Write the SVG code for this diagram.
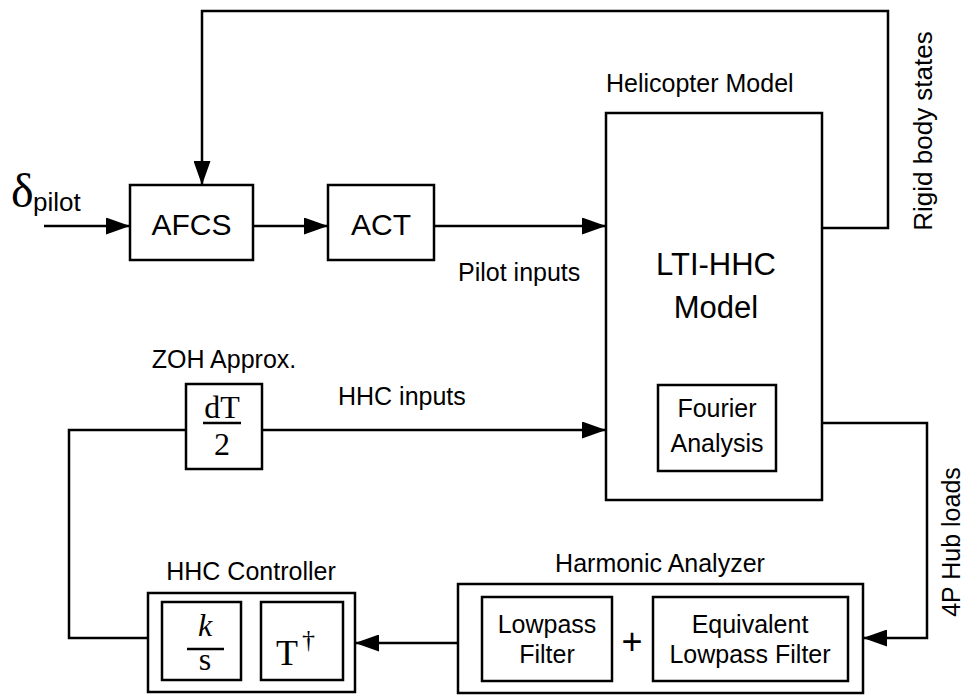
<svg xmlns="http://www.w3.org/2000/svg" width="968" height="695" viewBox="0 0 968 695">
<style>
.box{fill:#fff;stroke:#000;stroke-width:2.5}
.ln{fill:none;stroke:#000;stroke-width:2.5}
.t{font-family:"Liberation Sans",Arial,sans-serif;font-size:25px;fill:#000}
.big{font-size:30px}
.xl{font-size:31px}
.s{font-family:"Liberation Serif","Times New Roman",serif;fill:#000}
.m{text-anchor:middle}
</style>
<defs>
<marker id="arr" viewBox="0 0 24 17" refX="24" refY="8.5" markerWidth="24" markerHeight="17" markerUnits="userSpaceOnUse" orient="auto">
<path d="M0,0 L24,8.5 L0,17 z" fill="#000"/>
</marker>
</defs>
<rect width="968" height="695" fill="#fff"/>

<g id="connectors">
<path class="ln" d="M44,226 H130" marker-end="url(#arr)"/>
<path class="ln" d="M253,226 H328" marker-end="url(#arr)"/>
<path class="ln" d="M434,226 H606" marker-end="url(#arr)"/>
<path class="ln" d="M822,228 H888 V11 H202 V185" marker-end="url(#arr)"/>
<path class="ln" d="M262,430 H606" marker-end="url(#arr)"/>
<path class="ln" d="M148,638 H69 V430 H186"/>
<path class="ln" d="M822,423 H927 V638 H863" marker-end="url(#arr)"/>
<path class="ln" d="M458,643 H355" marker-end="url(#arr)"/>
</g>

<g id="labels">
<text class="s" x="11" y="207" style="font-size:48px">δ</text>
<text class="t" x="33" y="211" style="font-size:26px">pilot</text>
<text class="t" x="458" y="281">Pilot inputs</text>
<text class="t" x="338" y="405">HHC inputs</text>
<text class="t" transform="translate(932,131) rotate(-90)" text-anchor="middle" style="font-size:26px">Rigid body states</text>
<text class="t" transform="translate(960,542) rotate(-90)" text-anchor="middle">4P Hub loads</text>
</g>

<g id="afcs">
<rect class="box" x="130" y="185" width="123" height="75"/>
<text class="t big m" x="191.5" y="235">AFCS</text>
</g>

<g id="act">
<rect class="box" x="328" y="185" width="106" height="75"/>
<text class="t big m" x="381" y="235">ACT</text>
</g>

<g id="helicopter-model">
<text class="t" x="606" y="92">Helicopter Model</text>
<rect class="box" x="606" y="113" width="216" height="387"/>
<text class="t xl m" x="716" y="275">LTI-HHC</text>
<text class="t xl m" x="716" y="318">Model</text>
<g id="fourier-analysis">
<rect class="box" x="658" y="385" width="118" height="86"/>
<text class="t m" x="717" y="417">Fourier</text>
<text class="t m" x="717" y="452">Analysis</text>
</g>
</g>

<g id="zoh">
<text class="t m" x="224" y="368">ZOH Approx.</text>
<rect class="box" x="186" y="384" width="76" height="85"/>
<text class="s m" x="222" y="418" style="font-size:32px">dT</text>
<line class="ln" x1="203" y1="423" x2="241" y2="423"/>
<text class="s m" x="222" y="455" style="font-size:32px">2</text>
</g>

<g id="hhc-controller">
<text class="t m" x="251" y="580">HHC Controller</text>
<rect class="box" x="148" y="593" width="207" height="99"/>
<rect class="box" x="162" y="602" width="79" height="78"/>
<text class="s m" x="205" y="636" style="font-size:32px;font-style:italic">k</text>
<line class="ln" x1="187" y1="649" x2="224" y2="649"/>
<text class="s m" x="205" y="670" style="font-size:32px">s</text>
<rect class="box" x="261" y="602" width="82" height="78"/>
<text class="s" x="276" y="665" style="font-size:36px">T</text>
<text class="s" x="302" y="648" style="font-size:26px">†</text>
</g>

<g id="harmonic-analyzer">
<text class="t m" x="660" y="572">Harmonic Analyzer</text>
<rect class="box" x="458" y="584" width="405" height="109"/>
<rect class="box" x="482" y="597" width="130" height="84"/>
<text class="t m" x="547" y="633">Lowpass</text>
<text class="t m" x="547" y="663">Filter</text>
<text class="t m" x="632" y="654" style="font-size:36px">+</text>
<rect class="box" x="653" y="597" width="195" height="84"/>
<text class="t m" x="750" y="633">Equivalent</text>
<text class="t m" x="750" y="663">Lowpass Filter</text>
</g>
</svg>
